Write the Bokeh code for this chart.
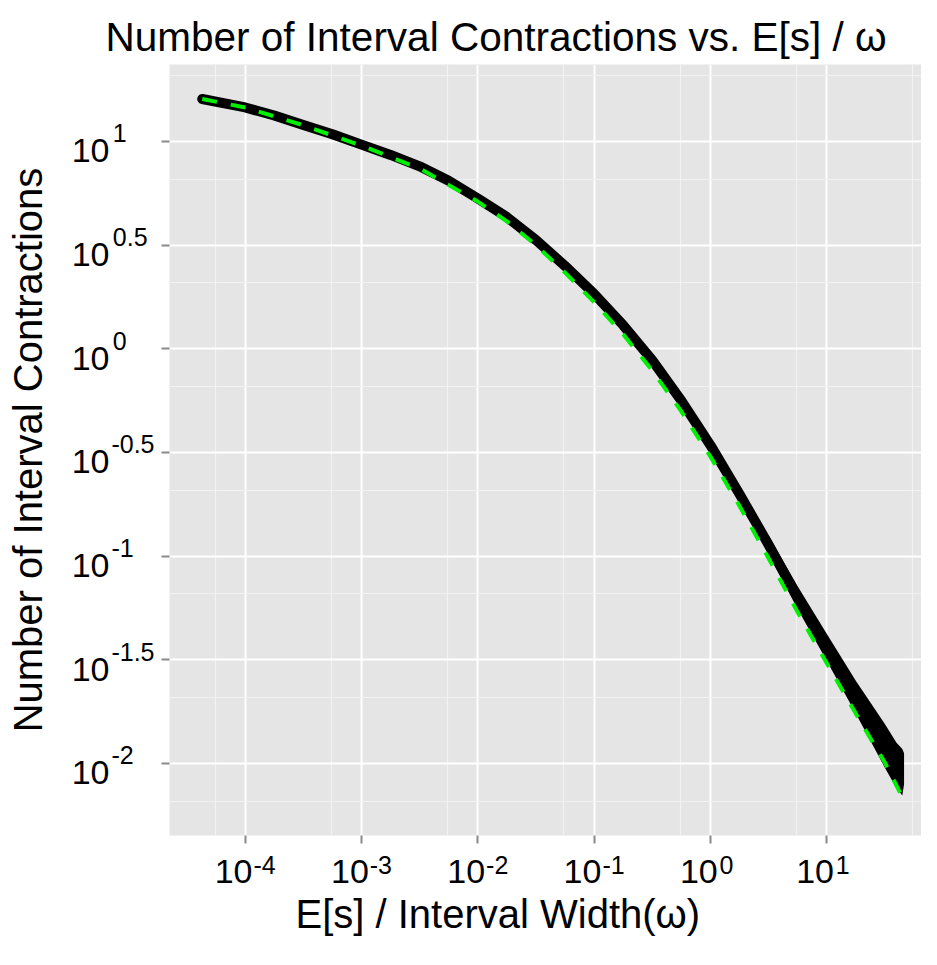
from bokeh.plotting import figure
from bokeh.models import (FixedTicker, CustomJSTickFormatter, LogAxis, Range1d,
                          Title)
from bokeh.embed import file_html
from bokeh.resources import INLINE

# ---- data ----
# centre of the dense black band of observations
ratio = [4.27e-5, 1.0e-4, 1.778e-4, 3.162e-4, 5.623e-4, 1.0e-3, 1.778e-3,
         3.162e-3, 5.623e-3, 0.01, 0.01778, 0.03162, 0.05623, 0.1, 0.1778,
         0.3162, 0.5623, 1.0, 1.778, 3.162, 5.623, 10.0, 17.78, 31.62, 39.81]
contractions = [16.03, 14.59, 13.34, 12.02, 10.84, 9.66, 8.61, 7.59, 6.46,
                5.31, 4.32, 3.35, 2.51, 1.84, 1.30, 0.881, 0.562, 0.343,
                0.1995, 0.1135, 0.0631, 0.0363, 0.0209, 0.0123, 0.00977]

# widening tail of the band (lower / upper envelope)
tail_ratio = [3.162, 5.623, 10.0, 17.78, 31.62, 39.81, 44.67, 46.24]
tail_low = [0.1023, 0.0556, 0.0313, 0.0174, 0.00955, 0.00759, 0.00700, 0.00794]
tail_high = [0.1259, 0.0716, 0.0422, 0.0251, 0.0155, 0.0126, 0.01175, 0.01122]

# green dashed fitted curve
fit_ratio = [4.27e-5, 1.0e-4, 3.162e-4, 1.0e-3, 3.162e-3, 0.01, 0.01778,
             0.03162, 0.05623, 0.1, 0.1778, 0.3162, 0.5623, 1.0, 1.778, 3.162,
             5.623, 10.0, 17.78, 31.62, 42.66]
fit_contractions = [16.03, 14.59, 11.97, 9.55, 7.41, 5.13, 4.12, 3.16, 2.33,
                    1.68, 1.175, 0.785, 0.499, 0.302, 0.1746, 0.0977, 0.0537,
                    0.0305, 0.0174, 0.0101, 0.00724]

X_TICKS = [1e-4, 1e-3, 1e-2, 1e-1, 1.0, 10.0]
X_EXPONENTS = ["-4", "-3", "-2", "-1", "0", "1"]
Y_TICKS = [0.01, 0.031623, 0.1, 0.31623, 1.0, 3.1623, 10.0]
Y_EXPONENTS = ["-2", "-1.5", "-1", "-0.5", "0", "0.5", "1"]

X_RANGE = (2.234e-5, 65.31)
Y_RANGE = (0.004495, 23.51)

TITLE = "Number of Interval Contractions vs. E[s] / \u03c9"
X_TITLE = "E[s] / Interval Width(\u03c9)"
Y_TITLE = "Number of Interval Contractions"

FONT = "Liberation Sans"
BASE_PX, SUP_PX = 34, 25
PX_PER_DECADE_X, PX_PER_DECADE_Y = 116.3, 207.33

# ---- figure ----
p = figure(width=921, height=949, x_axis_type="log", y_axis_type="log",
           x_range=X_RANGE, y_range=Y_RANGE, output_backend="svg",
           toolbar_location=None, min_border_left=169, min_border_right=0,
           min_border_top=64, min_border_bottom=114)
p.background_fill_color = "#E5E5E5"
p.border_fill_color = "white"
p.outline_line_color = None


def midpoints(ticks, lo, hi):
    ext = [lo] + list(ticks) + [hi]
    return [(a + b) / 2 for a, b in zip(ext[:-1], ext[1:])]


p.xaxis.ticker = FixedTicker(ticks=X_TICKS, minor_ticks=midpoints(X_TICKS, 1e-5, 100.0))
p.yaxis.ticker = FixedTicker(ticks=Y_TICKS, minor_ticks=midpoints(Y_TICKS, 0.0031623, 31.623))

# main axes: tick marks only
for ax in (p.xaxis, p.yaxis):
    ax.axis_line_color = None
    ax.major_tick_in = 0
    ax.major_tick_out = 8
    ax.major_tick_line_color = "#8a8a8a"
    ax.major_tick_line_width = 2
    ax.minor_tick_line_color = None
    ax.formatter = CustomJSTickFormatter(code="return '';")
    ax.major_label_standoff = 0
    ax.major_label_text_font_size = "0px"

for g in (p.xgrid, p.ygrid):
    g.grid_line_color = "white"
    g.grid_line_width = 2
    g.minor_grid_line_color = "#F2F2F2"
    g.minor_grid_line_width = 1.2

# ---- tick labels "10" + raised exponent, each on its own label axis ----
NBSP = "\u00a0"
ADV = {"-": 0.333, ".": 0.278, **{str(d): 0.556 for d in range(10)}}


def padded(exps):
    w = [sum(ADV[c] for c in e) for e in exps]
    wmax = max(w)
    return [e + NBSP * round((wmax - wi) / 0.278) for e, wi in zip(exps, w)], wmax * SUP_PX


def label_axis(range_name, ticks, labels, size, standoff, dim):
    kw = dict(ticker=FixedTicker(ticks=ticks, minor_ticks=[]),
              axis_line_color=None, major_tick_line_color=None,
              minor_tick_line_color=None, major_tick_in=0, major_tick_out=0,
              major_label_standoff=standoff, major_label_text_font=FONT,
              major_label_text_font_size=f"{size}px",
              major_label_text_color="black",
              major_label_overrides=dict(zip(ticks, labels)))
    if dim == "x":
        kw["x_range_name"] = range_name
    else:
        kw["y_range_name"] = range_name
    return LogAxis(**kw)


def shifted(rng, px, px_per_decade):
    k = 10 ** (px / px_per_decade)
    return Range1d(rng[0] * k, rng[1] * k)


# x: composite "10^e" centred on the tick
x_exp_labels, x_exp_w = padded(X_EXPONENTS)
ten_w = 2 * 0.556 * BASE_PX
total = ten_w + 1 + x_exp_w
p.extra_x_ranges = {
    "xten": shifted(X_RANGE, (total / 2 - ten_w / 2), PX_PER_DECADE_X),
    "xexp": shifted(X_RANGE, -(total / 2 - x_exp_w / 2), PX_PER_DECADE_X),
}
p.add_layout(label_axis("xexp", X_TICKS, x_exp_labels, SUP_PX, 7, "x"), "below")
p.add_layout(label_axis("xten", X_TICKS, ["10"] * len(X_TICKS), BASE_PX, -22, "x"), "below")

# y: "10" nudged down, exponent nudged up
y_exp_labels, y_exp_w = padded(Y_EXPONENTS)
p.extra_y_ranges = {
    "yexp": shifted(Y_RANGE, -8.0, PX_PER_DECADE_Y),
    "yten": shifted(Y_RANGE, 9.4, PX_PER_DECADE_Y),
}
p.add_layout(label_axis("yexp", Y_TICKS, y_exp_labels, SUP_PX, 7, "y"), "left")
y_ten = label_axis("yten", Y_TICKS, ["10"] * len(Y_TICKS), BASE_PX, -1, "y")
y_ten.axis_label = Y_TITLE
y_ten.axis_label_standoff = 19
y_ten.axis_label_text_font = FONT
y_ten.axis_label_text_font_size = "40px"
y_ten.axis_label_text_font_style = "normal"
y_ten.axis_label_text_color = "black"
p.add_layout(y_ten, "left")

# ---- titles ----
p.title.text = TITLE
p.title.text_font = FONT
p.title.text_font_size = "40.5px"
p.title.text_font_style = "normal"
p.title.text_color = "black"
p.title.align = "left"
p.title.offset = -64
p.title.standoff = 10

p.add_layout(Title(text=X_TITLE, text_font=FONT, text_font_size="40px",
                   text_font_style="normal", text_color="black",
                   align="left", offset=126, standoff=9), "below")

# ---- data marks ----
p.varea(x=tail_ratio, y1=tail_low, y2=tail_high, fill_color="black")
p.line(ratio, contractions, line_width=10, line_color="black",
       line_cap="round", line_join="round")
p.line(fit_ratio, fit_contractions, line_width=4, line_color="#00EE00",
       line_dash="15 14")

open("out.html", "w").write(file_html(p, INLINE))
